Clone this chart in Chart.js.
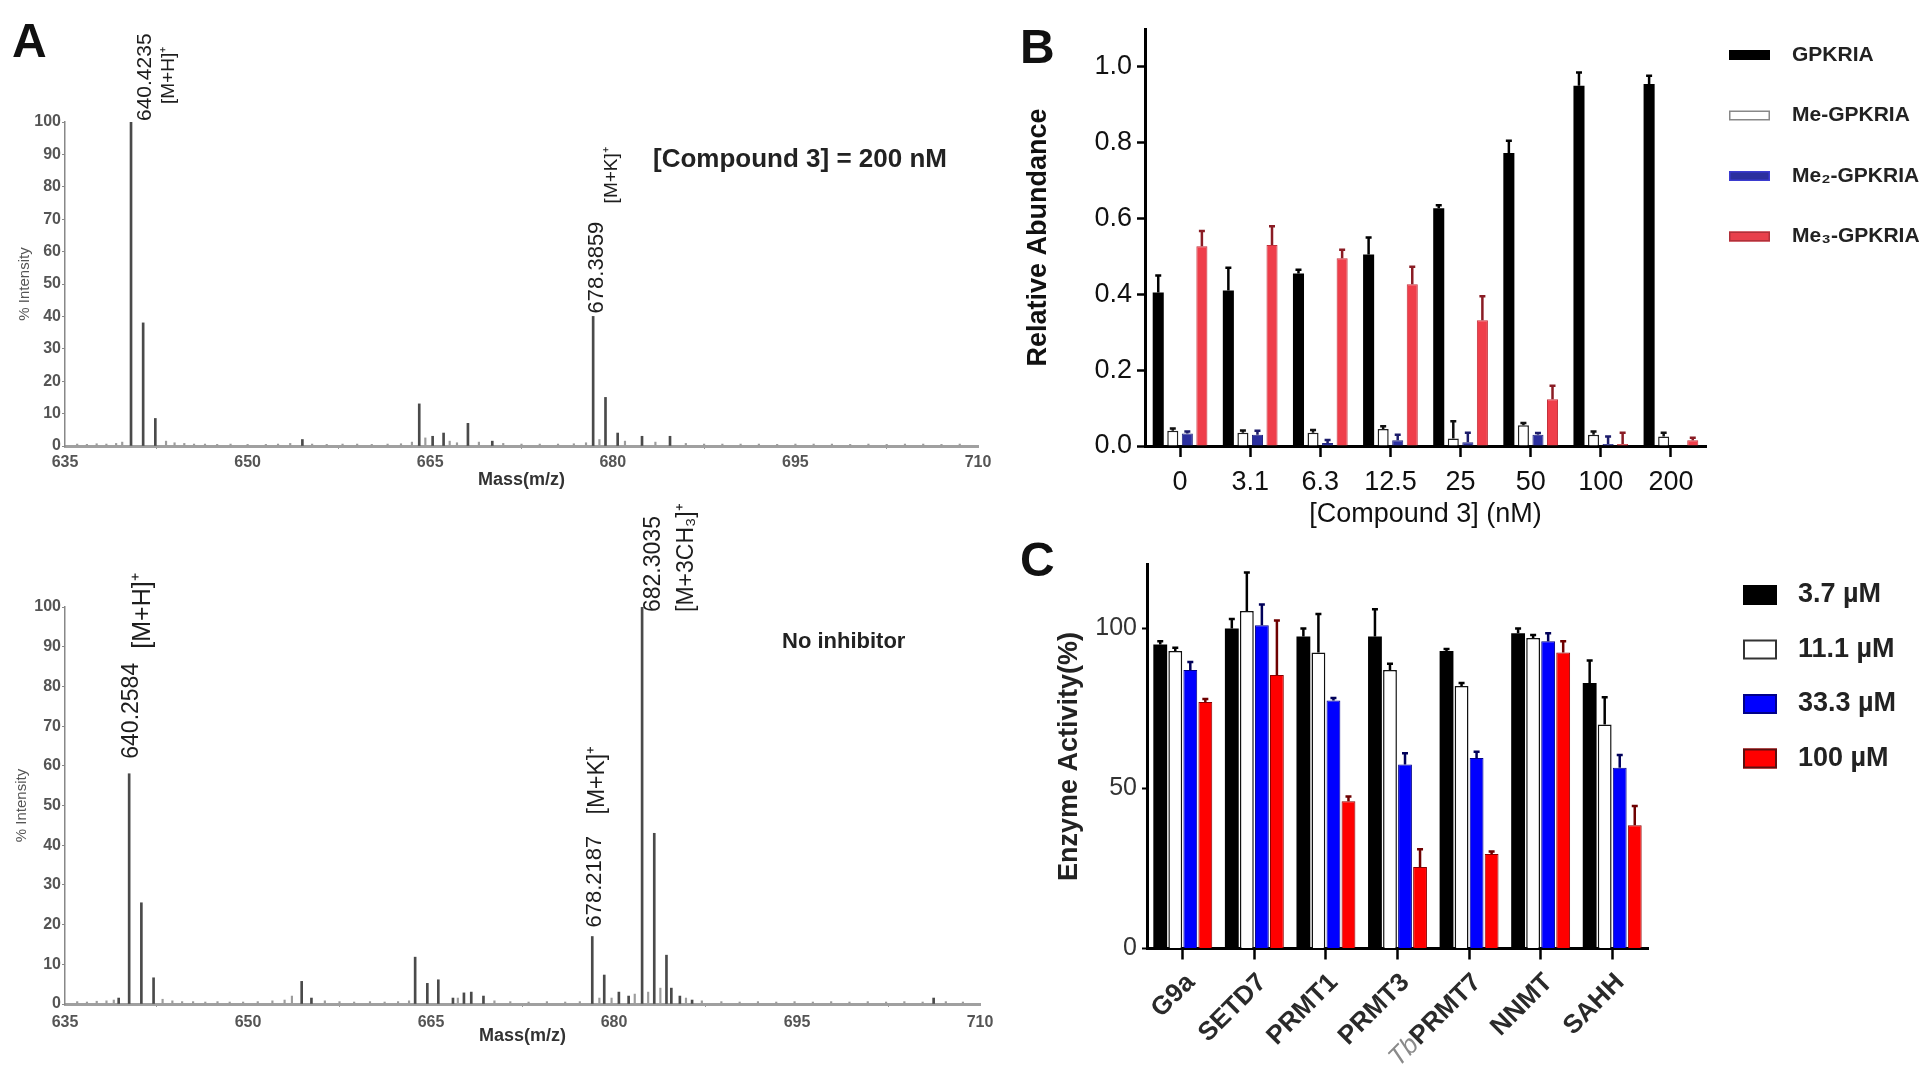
<!DOCTYPE html>
<html>
<head>
<meta charset="utf-8">
<script src="https://cdn.jsdelivr.net/npm/chart.js@4.4.1/dist/chart.umd.min.js"></script>
<style>
  html, body { margin:0; padding:0; background:#fff; }
  #wrap { position:relative; width:1920px; height:1087px; overflow:hidden; background:#fff; }
  canvas { position:absolute; }
</style>
</head>
<body>
<div id="wrap">
  <canvas id="cA1" width="1000" height="500" style="left:0px;top:0px;width:1000px;height:500px"></canvas>
  <canvas id="cA2" width="1000" height="607" style="left:0px;top:480px;width:1000px;height:607px"></canvas>
  <canvas id="cB" width="920" height="540" style="left:1000px;top:0px;width:920px;height:540px"></canvas>
  <canvas id="cC" width="920" height="567" style="left:1000px;top:520px;width:920px;height:567px"></canvas>
</div>
<script>
const FONT = '"Liberation Sans", Arial, Helvetica, sans-serif';
Chart.defaults.font.family = FONT;
Chart.defaults.animation = false;
Chart.defaults.color = '#222';

/* ===================== DATA ===================== */
/* Panel A : mass spectra */
const massTicks = [635, 650, 665, 680, 695, 710];
const intensityTicks = [0, 10, 20, 30, 40, 50, 60, 70, 80, 90, 100];
const massTitle = 'Mass(m/z)';
const intensityTitle = '% Intensity';

const topPeakMz  = [640.4235, 641.42, 642.42, 654.5, 664.1, 665.2, 666.1, 668.1, 670.1, 678.3859, 679.4, 680.4, 682.4, 684.7];
const topPeakInt = [100, 38, 8.5, 2, 13, 3, 4, 7, 1.5, 40, 15, 4, 3, 3];
const topNoiseMz  = [636.0, 636.8, 637.6, 638.4, 639.2, 639.7, 643.3, 644.0, 644.8, 645.6, 646.5, 647.5, 648.6, 650.0, 651.5, 652.5, 653.5, 655.3, 656.5, 657.8, 659.0, 660.2, 661.5, 662.6, 663.5, 664.6, 666.6, 667.2, 669.0, 671.0, 672.5, 674.0, 675.5, 676.8, 677.8, 678.9, 681.0, 683.5, 686.0, 687.5, 689.0, 690.5, 692.0, 693.5, 695.0, 696.5, 698.0, 699.5, 701.0, 702.5, 704.0, 705.5, 707.0, 708.5];
const topNoiseInt = [0.6, 0.5, 0.7, 0.6, 0.8, 1.2, 1.5, 1.0, 0.8, 0.6, 0.6, 0.5, 0.6, 0.5, 0.5, 0.6, 0.8, 0.6, 0.5, 0.6, 0.6, 0.5, 0.6, 0.7, 1.2, 2.5, 1.5, 1.0, 1.2, 0.8, 0.6, 0.6, 0.6, 0.7, 1.0, 2.0, 1.5, 1.2, 0.8, 0.6, 0.6, 0.6, 0.6, 0.5, 0.6, 0.6, 0.6, 0.5, 0.6, 0.5, 0.6, 0.6, 0.5, 0.6];
const topPeakLabels = ['640.4235', '[M+H]\u207A', '678.3859', '[M+K]\u207A'];
const topPeakLabelOf = [0, 0, 9, 9];           // index of the labelled peak
const topNote = '[Compound 3] = 200 nM';

const botPeakMz  = [639.4, 640.2584, 641.26, 642.26, 654.4, 655.2, 663.7, 664.7, 665.6, 666.8, 667.7, 668.3, 669.3, 678.2187, 679.2, 680.4, 681.2, 682.3035, 683.3, 684.3, 684.7, 685.4, 686.4, 706.2];
const botPeakInt = [1.5, 58, 25.5, 6.6, 5.7, 1.5, 11.8, 5.2, 6.1, 1.5, 2.8, 3, 2, 17, 7.3, 3, 2, 100, 43, 12.3, 4, 2, 1, 1.5];
const botNoiseMz  = [636.0, 636.8, 637.6, 638.4, 639.0, 643.0, 643.8, 644.6, 645.5, 646.5, 647.5, 648.5, 649.6, 650.8, 652.0, 653.0, 653.6, 656.3, 657.5, 658.7, 660.0, 661.2, 662.3, 663.2, 667.2, 670.2, 671.5, 673.0, 674.5, 676.0, 677.2, 678.8, 679.8, 681.7, 682.8, 683.8, 685.9, 687.2, 688.8, 690.3, 691.8, 693.3, 694.8, 696.3, 697.8, 699.3, 700.8, 702.3, 703.8, 705.3, 707.2, 708.6];
const botNoiseInt = [0.6, 0.5, 0.7, 0.8, 1.0, 1.2, 0.8, 0.6, 0.6, 0.5, 0.6, 0.5, 0.5, 0.6, 0.8, 1.0, 2.0, 0.8, 0.6, 0.5, 0.6, 0.5, 0.6, 0.8, 1.5, 0.8, 0.6, 0.5, 0.6, 0.5, 0.6, 1.5, 1.5, 2.5, 3.0, 4.0, 1.5, 0.8, 0.6, 0.5, 0.6, 0.5, 0.6, 0.5, 0.6, 0.5, 0.6, 0.5, 0.6, 0.5, 0.6, 0.5];
const botPeakLabels = ['640.2584', '[M+H]\u207A', '678.2187', '[M+K]\u207A', '682.3035', '[M+3CH\u2083]\u207A'];
const botPeakLabelOf = [1, 1, 13, 13, 17, 17];
const botNote = 'No inhibitor';

/* Panel B : relative abundance */
const bCategories = ['0', '3.1', '6.3', '12.5', '25', '50', '100', '200'];
const bSeries = ['GPKRIA', 'Me-GPKRIA', 'Me\u2082-GPKRIA', 'Me\u2083-GPKRIA'];
const bGPKRIA    = [0.405, 0.41, 0.455, 0.505, 0.627, 0.773, 0.95, 0.955];
const bGPKRIA_sd = [0.045, 0.06, 0.01, 0.045, 0.008, 0.032, 0.035, 0.022];
const bMe1       = [0.04, 0.035, 0.035, 0.045, 0.02, 0.055, 0.03, 0.025];
const bMe1_sd    = [0.006, 0.006, 0.007, 0.007, 0.045, 0.006, 0.008, 0.01];
const bMe2       = [0.033, 0.03, 0.008, 0.015, 0.01, 0.03, 0.005, 0.0];
const bMe2_sd    = [0.005, 0.01, 0.008, 0.015, 0.025, 0.004, 0.02, 0.0];
const bMe3       = [0.527, 0.53, 0.495, 0.427, 0.332, 0.123, 0.005, 0.015];
const bMe3_sd    = [0.04, 0.05, 0.023, 0.046, 0.063, 0.036, 0.03, 0.007];
const bYTicks = [0, 0.2, 0.4, 0.6, 0.8, 1.0];
const bXTitle = '[Compound 3] (nM)';
const bYTitle = 'Relative Abundance';

/* Panel C : enzyme activity */
const cCategories = ['G9a', 'SETD7', 'PRMT1', 'PRMT3', 'TbPRMT7', 'NNMT', 'SAHH'];
const cItalicPrefix = ['', '', '', '', 'Tb', '', ''];
const cSeries = ['3.7 \u00B5M', '11.1 \u00B5M', '33.3 \u00B5M', '100 \u00B5M'];
const c37     = [95, 100, 97.5, 97.5, 93, 98.5, 83];
const c37_sd  = [1, 3, 2.5, 8.5, 0.6, 1.5, 7];
const c111    = [93, 105.5, 92.5, 87, 82, 97, 70];
const c111_sd = [1, 12, 12, 2, 1, 1, 8.5];
const c333    = [87, 101, 77.5, 57.5, 59.5, 96, 56.5];
const c333_sd = [2.5, 6.5, 0.8, 3.5, 2, 2.5, 4];
const c100    = [77, 85.5, 46, 25.5, 29.5, 92.5, 38.5];
const c100_sd = [1, 17, 1.5, 5.5, 0.8, 3.5, 6];
const cYTicks = [0, 50, 100];
const cYTitle = 'Enzyme Activity(%)';

/* ===================== HELPERS ===================== */
function toPoints(xs, ys) {
  const n = Math.min(xs.length, ys.length);
  const out = [];
  for (let i = 0; i < n; i++) out.push({ x: xs[i], y: ys[i] });
  return out;
}

function letterPlugin(letter, x, y) {
  return {
    id: 'letter' + letter,
    afterDraw(chart) {
      const ctx = chart.ctx;
      ctx.save();
      ctx.font = 'bold 48px ' + FONT;
      ctx.fillStyle = '#111';
      ctx.textAlign = 'left';
      ctx.textBaseline = 'alphabetic';
      ctx.fillText(letter, x, y);
      ctx.restore();
    }
  };
}

function spectrumDecor(o) {
  return {
    id: 'specDecor',
    afterDraw(chart) {
      const ctx = chart.ctx, xs = chart.scales.x, ys = chart.scales.y;
      ctx.save();
      ctx.fillStyle = '#1e1e1e';
      o.labels.forEach((t, i) => {
        const L = o.layout[i];
        const p = o.labelOf[i];
        const x = xs.getPixelForValue(o.peakMz[p]) + L.dx;
        const y = ys.getPixelForValue(o.peakInt[p]) - L.gap;
        ctx.save();
        ctx.translate(x, y);
        ctx.rotate(-Math.PI / 2);
        ctx.font = L.size + 'px ' + FONT;
        ctx.textAlign = 'left';
        ctx.textBaseline = 'middle';
        ctx.fillText(t, 0, 0);
        ctx.restore();
      });
      ctx.font = 'bold ' + o.noteSize + 'px ' + FONT;
      ctx.textAlign = 'left';
      ctx.textBaseline = 'middle';
      ctx.fillStyle = '#222';
      ctx.fillText(o.note, o.noteX, o.noteY);
      ctx.restore();
    }
  };
}

function makeSpectrum(id, s) {
  return new Chart(document.getElementById(id), {
    type: 'bar',
    data: {
      datasets: [
        { label: 'peaks', data: toPoints(s.peakMz, s.peakInt), backgroundColor: '#4a4a4a', barThickness: 2, grouped: false, order: 1 },
        { label: 'baseline', data: toPoints(s.noiseMz, s.noiseInt), backgroundColor: '#9c9c9c', barThickness: 1.5, grouped: false, order: 2 }
      ]
    },
    options: {
      responsive: false,
      animation: false,
      layout: { padding: { left: 0, top: s.padTop, right: s.padRight, bottom: 0 } },
      plugins: { legend: { display: false }, tooltip: { enabled: false } },
      scales: {
        x: {
          type: 'linear', min: 635, max: 710, offset: false,
          afterBuildTicks: sc => { sc.ticks = massTicks.map(v => ({ value: v })); },
          ticks: { font: { size: 16, weight: 'bold' }, color: '#555', padding: s.xTickPad, maxRotation: 0, autoSkip: false },
          grid: { drawOnChartArea: false, tickLength: 3, color: '#999' },
          border: { color: '#a0a0a0', width: 3 },
          title: { display: true, text: massTitle, font: { size: 18, weight: 'bold' }, color: '#333', padding: { top: 0, bottom: s.xTitlePad } },
          afterFit: sc => { sc.height = s.xHeight; }
        },
        y: {
          min: 0, max: 100,
          afterBuildTicks: sc => { sc.ticks = intensityTicks.map(v => ({ value: v })); },
          ticks: { font: { size: 16, weight: 'bold' }, color: '#555', padding: 1, autoSkip: false },
          grid: { drawOnChartArea: false, tickLength: 3, color: '#888' },
          border: { color: '#888', width: 1.5 },
          title: { display: true, text: intensityTitle, font: { size: 15 }, color: '#555', padding: { top: s.yTitlePad, bottom: 0 } },
          afterFit: sc => { sc.width = 65; }
        }
      }
    },
    plugins: s.plugins
  });
}

/* ===================== PANEL A ===================== */
makeSpectrum('cA1', {
  peakMz: topPeakMz, peakInt: topPeakInt, noiseMz: topNoiseMz, noiseInt: topNoiseInt,
  padTop: 122, padRight: 22, xHeight: 54, xTitlePad: 9, yTitlePad: 16, xTickPad: 4,
  plugins: [
    spectrumDecor({
      labels: topPeakLabels, labelOf: topPeakLabelOf, peakMz: topPeakMz, peakInt: topPeakInt,
      layout: [ { dx: 14, gap: 1, size: 21 }, { dx: 38, gap: 18, size: 19 }, { dx: 4, gap: 3, size: 22 }, { dx: 19, gap: 113, size: 19 } ],
      note: topNote, noteSize: 26, noteX: 653, noteY: 160
    }),
    letterPlugin('A', 12, 57)
  ]
});

makeSpectrum('cA2', {
  peakMz: botPeakMz, peakInt: botPeakInt, noiseMz: botNoiseMz, noiseInt: botNoiseInt,
  padTop: 127, padRight: 20, xHeight: 83, xTitlePad: 40, yTitlePad: 13, xTickPad: 6,
  plugins: [
    spectrumDecor({
      labels: botPeakLabels, labelOf: botPeakLabelOf, peakMz: botPeakMz, peakInt: botPeakInt,
      layout: [ { dx: 3, gap: 15, size: 23 }, { dx: 14, gap: 125, size: 25 }, { dx: 3, gap: 9, size: 22 }, { dx: 5, gap: 122, size: 23 }, { dx: 12, gap: -5, size: 23 }, { dx: 45, gap: -5, size: 23 } ],
      note: botNote, noteSize: 22, noteX: 782, noteY: 162
    })
  ]
});

/* ===================== BAR HELPERS ===================== */
function errorBars(cap, width) {
  return {
    id: 'errorBars',
    afterDatasetsDraw(chart) {
      const ctx = chart.ctx, ys = chart.scales.y;
      chart.data.datasets.forEach((ds, di) => {
        if (!ds.errors) return;
        const meta = chart.getDatasetMeta(di);
        ctx.save();
        ctx.strokeStyle = ds.errorColor;
        ctx.lineWidth = width;
        meta.data.forEach((bar, i) => {
          const e = ds.errors[i];
          if (!e) return;
          const top = ys.getPixelForValue(ds.data[i] + e);
          ctx.beginPath();
          ctx.moveTo(bar.x, bar.y);
          ctx.lineTo(bar.x, top);
          ctx.moveTo(bar.x - cap / 2, top);
          ctx.lineTo(bar.x + cap / 2, top);
          ctx.stroke();
        });
        ctx.restore();
      });
    }
  };
}

function customLegend(o) {
  return {
    id: 'customLegend',
    afterDraw(chart) {
      const ctx = chart.ctx;
      ctx.save();
      chart.data.datasets.forEach((ds, i) => {
        const cy = o.y0 + i * o.dy;
        ctx.fillStyle = o.fills[i];
        ctx.fillRect(o.x, cy - o.h / 2, o.w, o.h);
        ctx.strokeStyle = o.strokes[i];
        ctx.lineWidth = o.lw;
        ctx.strokeRect(o.x + o.lw / 2, cy - o.h / 2 + o.lw / 2, o.w - o.lw, o.h - o.lw);
        ctx.fillStyle = '#222';
        ctx.font = 'bold ' + o.size + 'px ' + FONT;
        ctx.textAlign = 'left';
        ctx.textBaseline = 'middle';
        ctx.fillText(ds.label, o.tx, cy);
      });
      ctx.restore();
    }
  };
}

/* ===================== PANEL B ===================== */
new Chart(document.getElementById('cB'), {
  type: 'bar',
  data: {
    labels: bCategories,
    datasets: [
      { label: bSeries[0], data: bGPKRIA, errors: bGPKRIA_sd, errorColor: '#000', backgroundColor: '#000', borderColor: '#000', borderWidth: 0 },
      { label: bSeries[1], data: bMe1, errors: bMe1_sd, errorColor: '#111', backgroundColor: '#fff', borderColor: '#222', borderWidth: 1.5 },
      { label: bSeries[2], data: bMe2, errors: bMe2_sd, errorColor: '#1c1c6b', backgroundColor: '#2b2f9e', borderColor: '#23267f', borderWidth: 1 },
      { label: bSeries[3], data: bMe3, errors: bMe3_sd, errorColor: '#8a1c24', backgroundColor: '#ef3e4a', borderColor: '#c42f3a', borderWidth: 1 }
    ]
  },
  options: {
    responsive: false,
    animation: false,
    layout: { padding: { left: 0, top: 29, right: 214, bottom: 0 } },
    datasets: { bar: { categoryPercentage: 0.83, barPercentage: 0.76 } },
    plugins: { legend: { display: false }, tooltip: { enabled: false } },
    scales: {
      x: {
        grid: { offset: false, drawOnChartArea: false, tickLength: 11, tickWidth: 2.5, tickColor: '#000' },
        border: { color: '#000', width: 3 },
        ticks: { font: { size: 27 }, color: '#111', padding: 9, maxRotation: 0, autoSkip: false },
        title: { display: true, text: bXTitle, font: { size: 27 }, color: '#111', padding: { top: 0, bottom: 9 } },
        afterFit: sc => { sc.height = 94; }
      },
      y: {
        min: 0, max: 1.1,
        afterBuildTicks: sc => { sc.ticks = bYTicks.map(v => ({ value: v })); },
        ticks: { font: { size: 27 }, color: '#111', padding: 5, callback: v => Number(v).toFixed(1) },
        grid: { drawOnChartArea: false, tickLength: 8, tickWidth: 2.5, tickColor: '#000' },
        border: { color: '#000', width: 3 },
        title: { display: true, text: bYTitle, font: { size: 27, weight: 'bold' }, color: '#111', padding: { top: 22, bottom: 0 } },
        afterFit: sc => { sc.width = 145; }
      }
    }
  },
  plugins: [
    errorBars(6, 2.5),
    customLegend({ x: 729, w: 41, h: 10, y0: 55, dy: 60.5, tx: 792, size: 21, lw: 1.5,
      fills: ['#000', '#fff', '#2b2f9e', '#e8404c'], strokes: ['#000', '#888', '#3b3bd0', '#b0303a'] }),
    letterPlugin('B', 20, 63)
  ]
});

/* ===================== PANEL C ===================== */
function cAxisLabels() {
  return {
    id: 'cAxisLabels',
    afterDraw(chart) {
      const ctx = chart.ctx, xs = chart.scales.x, base = chart.chartArea.bottom;
      ctx.save();
      cCategories.forEach((lab, i) => {
        const prefix = cItalicPrefix[i];
        const main = lab.slice(prefix.length);
        const x = xs.getPixelForTick(i) + 8, y = base + 30;
        ctx.save();
        ctx.translate(x, y);
        ctx.rotate(-Math.PI / 4);
        ctx.textAlign = 'right';
        ctx.textBaseline = 'middle';
        ctx.font = 'bold 26px ' + FONT;
        ctx.fillStyle = '#2a2a2a';
        ctx.fillText(main, 0, 0);
        if (prefix) {
          const w = ctx.measureText(main).width;
          ctx.font = 'italic 26px ' + FONT;
          ctx.fillStyle = '#8a8a8a';
          ctx.fillText(prefix, -w, 0);
        }
        ctx.restore();
      });
      ctx.restore();
    }
  };
}

new Chart(document.getElementById('cC'), {
  type: 'bar',
  data: {
    labels: cCategories,
    datasets: [
      { label: cSeries[0], data: c37, errors: c37_sd, errorColor: '#000', backgroundColor: '#000', borderColor: '#000', borderWidth: 0 },
      { label: cSeries[1], data: c111, errors: c111_sd, errorColor: '#000', backgroundColor: '#fff', borderColor: '#111', borderWidth: 1.5 },
      { label: cSeries[2], data: c333, errors: c333_sd, errorColor: '#00005a', backgroundColor: '#0000ff', borderColor: '#00008a', borderWidth: 1 },
      { label: cSeries[3], data: c100, errors: c100_sd, errorColor: '#6e0000', backgroundColor: '#ff0000', borderColor: '#8b0000', borderWidth: 1 }
    ]
  },
  options: {
    responsive: false,
    animation: false,
    layout: { padding: { left: 0, top: 44.5, right: 272, bottom: 0 } },
    datasets: { bar: { categoryPercentage: 0.84, barPercentage: 0.92 } },
    plugins: { legend: { display: false }, tooltip: { enabled: false } },
    scales: {
      x: {
        grid: { offset: false, drawOnChartArea: false, tickLength: 11, tickWidth: 2.5, tickColor: '#000' },
        border: { color: '#000', width: 3 },
        ticks: { display: false },
        afterFit: sc => { sc.height = 138.5; }
      },
      y: {
        min: 0, max: 120,
        afterBuildTicks: sc => { sc.ticks = cYTicks.map(v => ({ value: v })); },
        ticks: { font: { size: 25 }, color: '#333', padding: 5 },
        grid: { drawOnChartArea: false, tickLength: 5, tickWidth: 2, tickColor: '#000' },
        border: { color: '#000', width: 3 },
        title: { display: true, text: cYTitle, font: { size: 27, weight: 'bold' }, color: '#222', padding: { top: 53, bottom: 0 } },
        afterFit: sc => { sc.width = 147; }
      }
    }
  },
  plugins: [
    errorBars(6, 2.5),
    cAxisLabels(),
    customLegend({ x: 743, w: 34, h: 20, y0: 75, dy: 54.5, tx: 798, size: 27, lw: 2,
      fills: ['#000', '#fff', '#0000ff', '#ff0000'], strokes: ['#000', '#333', '#00008a', '#5a1010'] }),
    letterPlugin('C', 20, 56)
  ]
});
</script>
</body>
</html>
